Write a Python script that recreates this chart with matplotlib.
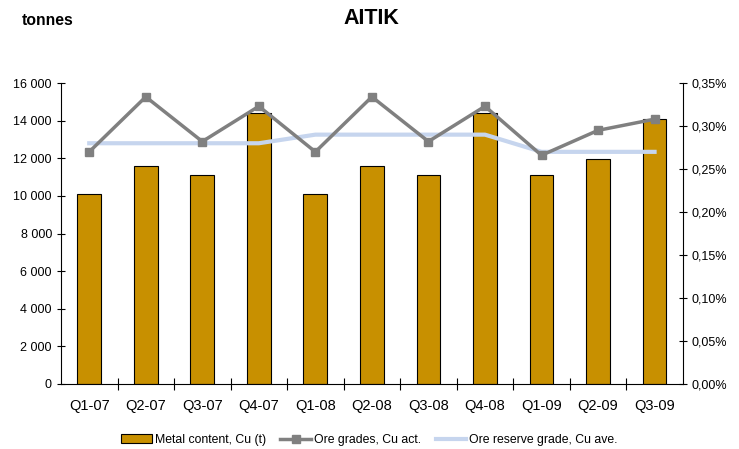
import matplotlib
matplotlib.use("Agg")
import matplotlib.pyplot as plt
from matplotlib.ticker import FuncFormatter, FixedLocator
import numpy as np

plt.rcParams['font.family'] = ['Liberation Sans', 'DejaVu Sans']

categories = ["Q1-07", "Q2-07", "Q3-07", "Q4-07", "Q1-08", "Q2-08", "Q3-08", "Q4-08", "Q1-09", "Q2-09", "Q3-09"]
metal_content = [10100, 11600, 11100, 14400, 10100, 11600, 11100, 14400, 11100, 11950, 14100]
ore_grade_act = [0.270, 0.334, 0.282, 0.323, 0.270, 0.334, 0.282, 0.323, 0.266, 0.295, 0.308]
ore_reserve_ave = [0.28, 0.28, 0.28, 0.28, 0.29, 0.29, 0.29, 0.29, 0.27, 0.27, 0.27]

fig = plt.figure(figsize=(7.39, 4.49), dpi=100)
ax = fig.add_axes([0.0825, 0.1448, 0.924 - 0.0825, 0.815 - 0.1448])
ax2 = ax.twinx()

x = np.arange(len(categories))
bars = ax.bar(x, metal_content, width=0.42, color="#C89000", edgecolor="black", linewidth=0.8,
              label="Metal content, Cu (t)", zorder=2)
ax.set_xlim(-0.5, len(categories) - 0.5)
ax.set_ylim(0, 16000)
ax.set_yticks(np.arange(0, 16001, 2000))
ax.yaxis.set_major_formatter(FuncFormatter(lambda v, p: f"{int(v):,}".replace(",", " ")))
ax.set_xticks(x)
ax.set_xticklabels(categories)
ax.tick_params(axis='x', length=0, pad=11, labelsize=10.5)
ax.xaxis.set_minor_locator(FixedLocator(np.arange(0.5, len(categories) - 0.5, 1)))
ax.tick_params(axis='x', which='minor', length=8, direction='inout', width=0.8)
ax.tick_params(axis='y', length=6, direction='inout', width=0.8, labelsize=9)

ln1, = ax2.plot(x, ore_grade_act, color="#808080", linewidth=2.5, marker="s", markersize=6,
                label="Ore grades, Cu act.", zorder=3)
ln2, = ax2.plot(x, ore_reserve_ave, color="#C6D5EE", linewidth=3,
                label="Ore reserve grade, Cu ave.", zorder=2)
ax2.set_ylim(0, 0.35)
ax2.set_yticks(np.arange(0, 0.3501, 0.05))
ax2.yaxis.set_major_formatter(FuncFormatter(lambda v, p: f"{v:.2f}%".replace(".", ",")))
ax2.tick_params(axis='y', length=6, direction='inout', width=0.8, labelsize=9)

for a in (ax, ax2):
    a.spines['top'].set_visible(False)
ax.spines['right'].set_visible(False)
ax2.spines['left'].set_visible(False)
ax2.spines['bottom'].set_visible(False)
for s in ('left', 'bottom'):
    ax.spines[s].set_linewidth(0.8)
ax2.spines['right'].set_linewidth(0.8)

fig.text(0.503, 0.958, "AITIK", ha="center", va="center", fontsize=15.5, fontweight="bold")
fig.text(0.03, 0.955, "tonnes", ha="left", va="center", fontsize=11.3, fontweight="bold")

fig.legend(handles=[bars, ln1, ln2], loc="center", bbox_to_anchor=(0.5, 0.02), ncol=3,
           frameon=False, fontsize=8.8, handlelength=2.5, handletextpad=0.25, columnspacing=1.2)

fig.savefig("out.png", dpi=100)
